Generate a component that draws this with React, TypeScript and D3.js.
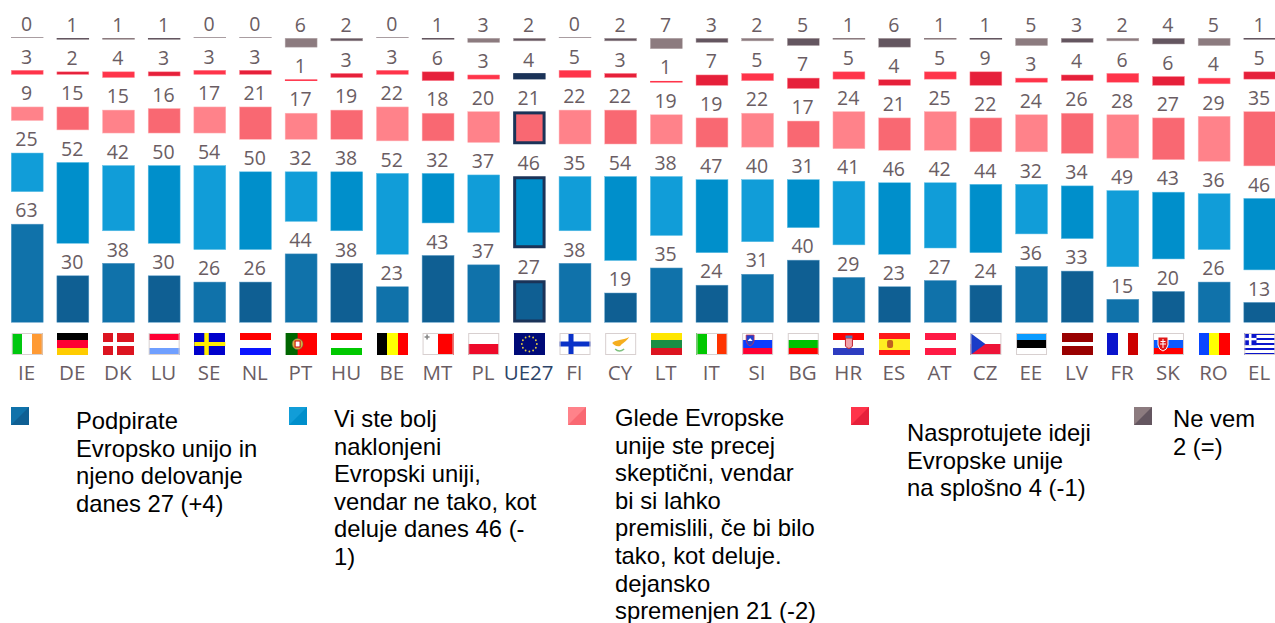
import React from 'react';
import * as d3 from 'd3';

const codes = ['IE','DE','DK','LU','SE','NL','PT','HU','BE','MT','PL','UE27','FI','CY','LT','IT','SI','BG','HR','ES','AT','CZ','EE','LV','FR','SK','RO','EL'];
const support = [63,30,38,30,26,26,44,38,23,43,37,27,38,19,35,24,31,40,29,23,27,24,36,33,15,20,26,13];
const favourable = [25,52,42,50,54,50,32,38,52,32,37,46,35,54,38,47,40,31,41,46,42,44,32,34,49,43,36,46];
const sceptical = [9,15,15,16,17,21,17,19,22,18,20,21,22,22,19,19,22,17,24,21,25,22,24,26,28,27,29,35];
const opposed = [3,2,4,3,3,3,1,3,3,6,3,4,5,3,1,7,5,7,5,4,5,9,3,4,6,6,4,5];
const dontKnow = [0,1,1,1,0,0,6,2,0,1,3,2,0,2,7,3,2,5,1,6,1,1,5,3,2,4,5,1];
const seriesValues = [support, favourable, sceptical, opposed, dontKnow];
const lightColors = ['#1072aa','#119dd8','#ff828a','#ff344a','#8c7b7f'];
const darkColors = ['#0f5f93','#008fcb','#f96872','#e6203a','#645660'];
const strokeColors = ['#5a9cc6','#5fbfe6','#ffb5b9','#ff8d99','#b5a9ac'];

const legendTexts = [
  ['Podpirate','Evropsko unijo in','njeno delovanje','danes 27 (+4)'],
  ['Vi ste bolj','naklonjeni','Evropski uniji,','vendar ne tako, kot','deluje danes 46 (-','1)'],
  ['Glede Evropske','unije ste precej','skeptični, vendar','bi si lahko','premislili, če bi bilo','tako, kot deluje.','dejansko','spremenjen 21 (-2)'],
  ['Nasprotujete ideji','Evropske unije','na splošno 4 (-1)'],
  ['Ne vem','2 (=)'],
];
const legendSwatchX = [11,289,568,851,1134];
const legendTextX = [76,334,615,907,1173];
const legendTextY = [429,427,426,441,427];

const flagStripes: Record<string,[string,string[]]> = {
  IE:['v',['#00c80f','#ffffff','#ff9a33']], DE:['h',['#000000','#ff0033','#ffcc00']],
  LU:['h',['#ff0033','#ffffff','#6f9fff']], NL:['h',['#ff0000','#ffffff','#0a14ff']],
  HU:['h',['#ff0000','#ffffff','#00c800']], BE:['v',['#000000','#ffff00','#ff0000']],
  MT:['v',['#ffffff','#ff0000']], PL:['h',['#ffffff','#ee0a2a']], LT:['h',['#ffe600','#1a8f45','#dc1420']],
  IT:['v',['#00c800','#ffffff','#ff3300']], SI:['h',['#ffffff','#0a3cff','#ff0033']],
  BG:['h',['#ffffff','#00c000','#ff0000']], HR:['h',['#ff0000','#ffffff','#2d3cc0']],
  ES:['h',['#ff1a1a','#ffee22','#ffee22','#ff1a1a']], AT:['h',['#ff1a44','#ffffff','#ff1a44']],
  EE:['h',['#0a9bff','#000000','#ffffff']], LV:['h',['#990000','#990000','#ffffff','#990000','#990000']],
  FR:['v',['#0a14cc','#ffffff','#cc0000']], SK:['h',['#ffffff','#0a5aff','#ff0000']],
  RO:['v',['#0a46ff','#ffff00','#ff0000']], CZ:['h',['#ffffff','#ee1438']],
  DK:['h',['#dc1420']], SE:['h',['#0000cc']], FI:['h',['#ffffff']], CY:['h',['#ffffff']],
  UE27:['h',['#000a78']], PT:['v',['#006600','#ff0000']], EL:['h',['#0a14cc','#ffffff','#0a14cc','#ffffff','#0a14cc','#ffffff','#0a14cc','#ffffff','#0a14cc']],
};
const borderedFlags = ['IE','LU','MT','PL','FI','CY','SI','BG','EE','CZ','SK','EL','IT'];

const STACK_BOTTOM = 322.5;
const GAP = 32;
const FLAG_Y = 333;
const FLAG_W = 31;
const FLAG_H = 22;
const x = d3.scaleBand<string>().domain(codes).range([11,1276]).paddingInner(0.29).paddingOuter(0);
const h = d3.scaleLinear().domain([0,100]).range([0,156.5]);
const VALUE_FONT = '"Open Sans", sans-serif';
const GREY_TEXT = '#6a5d63';
const NAVY = '#1b3358';

function Flag({code,fx}:{code:string;fx:number}){
  const [dir,cols] = flagStripes[code];
  const y = FLAG_Y, w = FLAG_W, fh = FLAG_H;
  const stripes = cols.map((c,i)=> dir==='h'
    ? <rect key={i} x={fx} y={y+i*fh/cols.length} width={w} height={fh/cols.length} fill={c} shapeRendering="crispEdges"/>
    : <rect key={i} x={fx+i*w/cols.length} y={y} width={w/cols.length} height={fh} fill={c} shapeRendering="crispEdges"/>);
  const extra: React.ReactNode[] = [];
  if(code==='DK'){extra.push(<rect key="a" x={fx+10} y={y} width={4} height={fh} fill="#fff"/>,<rect key="b" x={fx} y={y+9} width={w} height={4} fill="#fff"/>);}
  if(code==='SE'){extra.push(<rect key="a" x={fx+10} y={y} width={4.5} height={fh} fill="#ffee00"/>,<rect key="b" x={fx} y={y+9} width={w} height={4} fill="#ffee00"/>);}
  if(code==='FI'){extra.push(<rect key="a" x={fx+9} y={y} width={5} height={fh} fill="#0a32c8"/>,<rect key="b" x={fx} y={y+8.5} width={w} height={5} fill="#0a32c8"/>);}
  if(code==='CZ'){extra.push(<path key="a" d={`M${fx},${y}L${fx+15},${y+11}L${fx},${y+fh}Z`} fill="#1a3cc8"/>);}
  if(code==='PT'){extra.push(<rect key="r" x={fx} y={y} width={12} height={fh} fill="#006600"/>,<rect key="q" x={fx+12} y={y} width={w-12} height={fh} fill="#ff0000"/>,<circle key="a" cx={fx+12} cy={y+11} r={5.5} fill="#d8b040" stroke="#555" strokeWidth={0.5}/>,<rect key="b" x={fx+9.5} y={y+8} width={5} height={6} fill="#fff" stroke="#c00" strokeWidth={1}/>);}
  if(code==='MT'){extra.push(<path key="a" d={`M${fx+2},${y+4}h5M${fx+4.5},${y+1.5}v5`} stroke="#888" strokeWidth={1.6}/>);}
  if(code==='UE27'){d3.range(12).forEach(i=>{const a=i*Math.PI/6;extra.push(<circle key={i} cx={fx+15.5+Math.cos(a)*7.5} cy={y+11+Math.sin(a)*7.5} r={0.9} fill="#e8d040"/>);});}
  if(code==='CY'){extra.push(<path key="a" d={`M${fx+7},${y+10}C${fx+11},${y+6} ${fx+17},${y+8} ${fx+24},${y+4}C${fx+21},${y+9} ${fx+17},${y+10} ${fx+15},${y+13}C${fx+11},${y+14} ${fx+9},${y+12} ${fx+7},${y+10}Z`} fill="#f5ae1e"/>,<path key="b" d={`M${fx+10},${y+16}Q${fx+14},${y+20} ${fx+19},${y+16}`} fill="none" stroke="#7fc27f" strokeWidth={1.5}/>);}
  if(code==='SI'){extra.push(<path key="a" d={`M${fx+4},${y+2}h8v6q-1,4 -4,5q-3,-1 -4,-5Z`} fill="#2040d0" stroke="#e03040" strokeWidth={0.7}/>,<path key="b" d={`M${fx+5.5},${y+8}l2.5,-3l2.5,3Z`} fill="#fff"/>);}
  if(code==='HR'){extra.push(<path key="a" d={`M${fx+12},${y+5}h7v8q-3.5,5 -7,0Z`} fill="#f0a0a8" stroke="#c02030" strokeWidth={1}/>,<rect key="b" x={fx+12} y={y+2.5} width={7} height={2.5} fill="#5570b0"/>);}
  if(code==='ES'){extra.push(<rect key="a" x={fx+8} y={y+7} width={6} height={8} rx={2} fill="#c06020"/>);}
  if(code==='SK'){extra.push(<path key="a" d={`M${fx+5},${y+4}h10v8q-1,5 -5,6q-4,-1 -5,-6Z`} fill="#e01818" stroke="#fff" strokeWidth={1}/>,<path key="b" d={`M${fx+10},${y+6}v9M${fx+7.5},${y+8.5}h5M${fx+7},${y+11}h6`} stroke="#fff" strokeWidth={1}/>);}
  if(code==='EL'){extra.push(<rect key="a" x={fx} y={y} width={12.2} height={12.2} fill="#0a14cc"/>,<rect key="b" x={fx+4.6} y={y} width={2.6} height={12.2} fill="#fff"/>,<rect key="c" x={fx} y={y+4.9} width={12.2} height={2.4} fill="#fff"/>);}
  return <g>{stripes}{extra}{borderedFlags.includes(code)&&<rect x={fx+0.5} y={y+0.5} width={w-1} height={fh-1} fill="none" stroke="#d8d0d0" strokeWidth={1}/>}</g>;
}

export default function App(){
  return (
    <svg width={1275} height={623} style={{position:'absolute',left:0,top:0,background:'#fff'}}>
      {codes.map((code,ci)=>{
        const bx = x(code)!;
        const bw = x.bandwidth();
        const isDark = ci%2===1;
        const isEu = code==='UE27';
        let bottom = STACK_BOTTOM;
        const marks = seriesValues.map((vals,si)=>{
          const v = vals[ci];
          const bh = Math.max(h(v),1);
          const top = bottom-bh;
          const fill = (isDark?darkColors:lightColors)[si];
          let node: React.ReactNode;
          if(isEu && si<3){
            node = <rect x={bx+1.5} y={top+1.5} width={bw-3} height={bh-3} fill={fill} stroke={NAVY} strokeWidth={3}/>;
          } else if(isEu && si===3){
            node = <rect x={bx} y={top} width={bw} height={bh} fill={NAVY}/>;
          } else if(bh>3){
            node = <rect x={bx+0.25} y={top+0.25} width={bw-0.5} height={bh-0.5} fill={fill} stroke={strokeColors[si]} strokeWidth={0.5}/>;
          } else {
            node = <rect x={bx} y={top} width={bw} height={bh} fill={v===0?'#a99da1':fill}/>;
          }
          const el = (
            <g key={si}>
              {node}
              <text x={bx+bw/2-0.7} y={top-6.5} textAnchor="middle" fontFamily={VALUE_FONT} fontSize={19.5} fill={GREY_TEXT}>{v}</text>
            </g>
          );
          bottom = top-GAP;
          return el;
        });
        return (
          <g key={code}>
            {marks}
            <Flag code={code} fx={bx+0.7}/>
            <text x={bx+bw/2-0.7} y={379.5} textAnchor="middle" fontFamily={VALUE_FONT} fontSize={20.5} fill={isEu?'#2c4468':GREY_TEXT}>{code}</text>
          </g>
        );
      })}
      {legendTexts.map((lines,i)=>{
        const sx = legendSwatchX[i];
        const s = 18;
        return (
          <g key={i}>
            <rect x={sx} y={407} width={s} height={s} fill={lightColors[i]}/>
            <path d={`M${sx+s},${407}V${407+s}H${sx}Z`} fill={darkColors[i]}/>
            <text fontFamily='"Liberation Sans", Arial, sans-serif' fontSize={23.8} fill="#000">
              {lines.map((l,j)=><tspan key={j} x={legendTextX[i]} y={legendTextY[i]+j*27.6}>{l}</tspan>)}
            </text>
          </g>
        );
      })}
    </svg>
  );
}
